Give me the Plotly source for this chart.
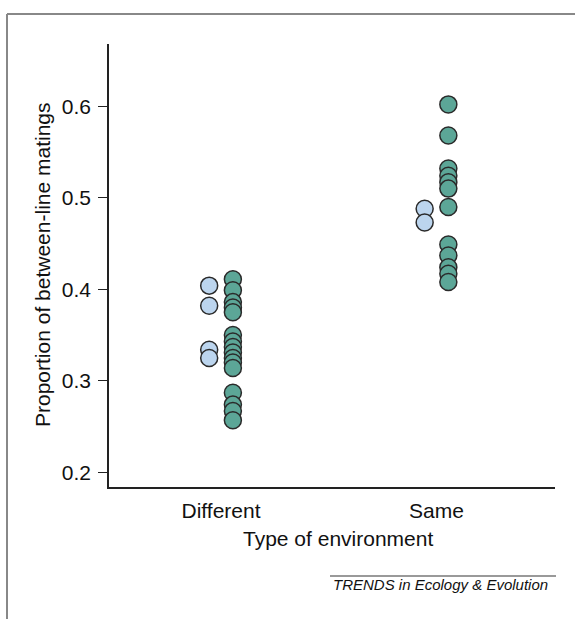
import plotly.graph_objects as go

# ---- data ----
categories = ["Different", "Same"]
diff_blue = [0.404, 0.382, 0.334, 0.325]
diff_green = [0.411, 0.399, 0.386, 0.380, 0.375,
              0.350, 0.343, 0.337, 0.331, 0.325, 0.320, 0.314,
              0.287, 0.274, 0.267, 0.257]
same_blue = [0.488, 0.473]
same_green = [0.602, 0.568, 0.532, 0.524, 0.517, 0.510, 0.490,
              0.449, 0.437, 0.424, 0.417, 0.408]
y_ticks = [0.2, 0.3, 0.4, 0.5, 0.6]

# ---- layout geometry ----
W, H = 575, 619
L, R, T, B = 109, 555, 44, 487

def px(x):
    return (x - L) / (R - L)

def py(y):
    return (B - y) / (B - T)

BLUE = "#bcd5ee"
GREEN = "#5ca697"
EDGE = "#2a2a2a"
off = 0.055

fig = go.Figure()
groups = [(0, diff_blue, BLUE, -off), (0, diff_green, GREEN, off),
          (1, same_blue, BLUE, -off), (1, same_green, GREEN, off)]
for xc, vals, col, o in groups:
    fig.add_trace(go.Scatter(
        x=[xc + o] * len(vals), y=vals, mode="markers",
        marker=dict(size=17, color=col, line=dict(color=EDGE, width=1.5)),
        showlegend=False, hoverinfo="y"))

font = "Liberation Sans, Arial, Helvetica, sans-serif"
fig.update_layout(
    width=W, height=H,
    margin=dict(l=L, r=W - R, t=T, b=H - B),
    paper_bgcolor="white", plot_bgcolor="white",
    font=dict(family=font, size=21, color="#111"),
    xaxis=dict(range=[-0.52, 1.55], tickvals=[0, 1], ticktext=categories,
               showline=True, linecolor="#222", linewidth=1.5,
               ticks="", showgrid=False, zeroline=False,
               ticklabelstandoff=4, fixedrange=True),
    yaxis=dict(range=[0.184, 0.668], tickvals=y_ticks,
               ticktext=[f"{v:.1f}" for v in y_ticks],
               showline=True, linecolor="#222", linewidth=1.5,
               ticks="outside", ticklen=9, tickwidth=1.2, tickcolor="#222",
               showgrid=False, zeroline=False, ticklabelstandoff=3,
               fixedrange=True),
)

# y-axis title
fig.add_annotation(xref="paper", yref="paper", x=px(42), y=py(265),
                   text="Proportion of between-line matings", textangle=-90,
                   showarrow=False, font=dict(size=21), xanchor="center",
                   yanchor="middle")
# x-axis title
fig.add_annotation(xref="paper", yref="paper", x=px(338), y=py(538),
                   text="Type of environment", showarrow=False,
                   font=dict(size=21), xanchor="center", yanchor="middle")
# footer
fig.add_annotation(xref="paper", yref="paper", x=px(550), y=py(584),
                   text="<i>TRENDS in Ecology &amp; Evolution</i>",
                   showarrow=False, font=dict(size=15), xanchor="right",
                   yanchor="middle")
fig.add_shape(type="line", xref="paper", yref="paper",
              x0=px(330), x1=px(556), y0=py(576), y1=py(576),
              line=dict(color="#777", width=1.5))
# frame
fig.add_shape(type="line", xref="paper", yref="paper",
              x0=px(7), x1=px(575), y0=py(14), y1=py(14),
              line=dict(color="#888", width=2))
fig.add_shape(type="line", xref="paper", yref="paper",
              x0=px(7), x1=px(7), y0=py(14), y1=py(619),
              line=dict(color="#888", width=2))

fig.write_html("out.html",
               config={"displayModeBar": False},
               post_script="document.body.style.margin='0';"
                           "document.body.style.overflow='hidden';")
